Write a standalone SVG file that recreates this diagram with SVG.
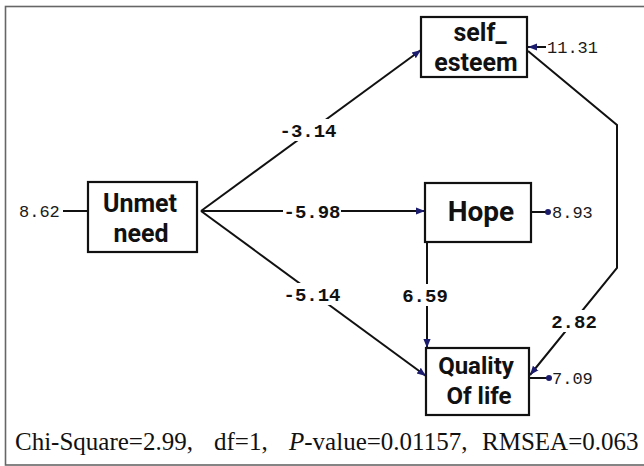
<svg xmlns="http://www.w3.org/2000/svg" width="644" height="466" viewBox="0 0 644 466">
<style>
.box{fill:#fff;stroke:#111;stroke-width:2.2}
.nt{font-family:Roboto,"Liberation Sans",Arial,sans-serif;font-weight:bold;font-size:25px;fill:#111;text-anchor:middle}
.lbl{font-family:"Liberation Mono","Courier New",monospace;font-weight:bold;font-size:19px;fill:#111;text-anchor:middle}
.err{font-family:"Liberation Mono","Courier New",monospace;font-size:17px;fill:#1a1a1a}
.ln{fill:none;stroke:#111;stroke-width:2}
.bg{fill:#fff}
.stat{font-family:"Liberation Serif","Times New Roman",serif;font-size:25px;fill:#111}
</style>
<defs>
<marker id="arr" viewBox="0 0 10 10" refX="10" refY="5" markerWidth="9" markerHeight="9" markerUnits="userSpaceOnUse" orient="auto">
<path d="M0,1 L10,5 L0,9 Z" fill="#1c1c6e"/>
</marker>
<marker id="dot" viewBox="0 0 10 10" refX="5" refY="5" markerWidth="6" markerHeight="6" markerUnits="userSpaceOnUse" orient="auto">
<circle cx="5" cy="5" r="5" fill="#1c1c6e"/>
</marker>
</defs>
<rect x="0" y="0" width="644" height="466" fill="#fff"/>
<rect x="5.5" y="6.5" width="640" height="458.5" fill="none" stroke="#666" stroke-width="1.6"/>
<g id="connectors">
<path class="ln" d="M201,211 L421,50" marker-end="url(#arr)"/>
<path class="ln" d="M201,211 L425,211" marker-end="url(#arr)"/>
<path class="ln" d="M201,211 L426,376" marker-end="url(#arr)"/>
<path class="ln" d="M427,242 L427,348" marker-end="url(#arr)"/>
<path class="ln" d="M528,51 L617,125 L617,268 L530,375" marker-end="url(#arr)"/>
<path class="ln" d="M63,211 L88,211"/>
<path class="ln" d="M546,47 L528,47" marker-end="url(#arr)"/>
<path class="ln" d="M531,212 L548,212" marker-end="url(#dot)"/>
<path class="ln" d="M529,378 L549,378" marker-end="url(#dot)"/>
<rect class="bg" x="279" y="119" width="60" height="22"/>
<text class="lbl" x="308" y="137">-3.14</text>
<rect class="bg" x="283" y="200" width="58" height="22"/>
<text class="lbl" x="312" y="218">-5.98</text>
<rect class="bg" x="283" y="283" width="58" height="22"/>
<text class="lbl" x="312" y="301">-5.14</text>
<rect class="bg" x="400" y="284" width="50" height="22"/>
<text class="lbl" x="425" y="302">6.59</text>
<rect class="bg" x="549" y="310" width="50" height="22"/>
<text class="lbl" x="574" y="328">2.82</text>
<text class="err" x="19" y="217">8.62</text>
<text class="err" x="547" y="53">11.31</text>
<text class="err" x="552" y="218">8.93</text>
<text class="err" x="552" y="384">7.09</text>
</g>
<g id="self_esteem">
<rect class="box" x="421" y="17" width="106" height="60"/>
<text class="nt" x="480" y="41">self_</text>
<text class="nt" x="476" y="71">esteem</text>
</g>
<g id="unmet_need">
<rect class="box" x="88" y="182" width="109" height="70"/>
<text class="nt" x="140" y="212">Unmet</text>
<text class="nt" x="141" y="242">need</text>
</g>
<g id="hope">
<rect class="box" x="425" y="183" width="106" height="59"/>
<text class="nt" x="481" y="221" style="font-size:28px">Hope</text>
</g>
<g id="quality_of_life">
<rect class="box" x="426" y="348" width="103" height="67"/>
<text class="nt" x="476" y="374" style="font-size:24px">Quality</text>
<text class="nt" x="479" y="404" style="font-size:24px">Of life</text>
</g>
<text class="stat" y="450"><tspan x="15">Chi-Square=2.99,</tspan><tspan x="214">df=1,</tspan><tspan x="289" font-style="italic">P</tspan><tspan>-value=0.01157,</tspan><tspan x="482">RMSEA=0.063</tspan></text>
</svg>
